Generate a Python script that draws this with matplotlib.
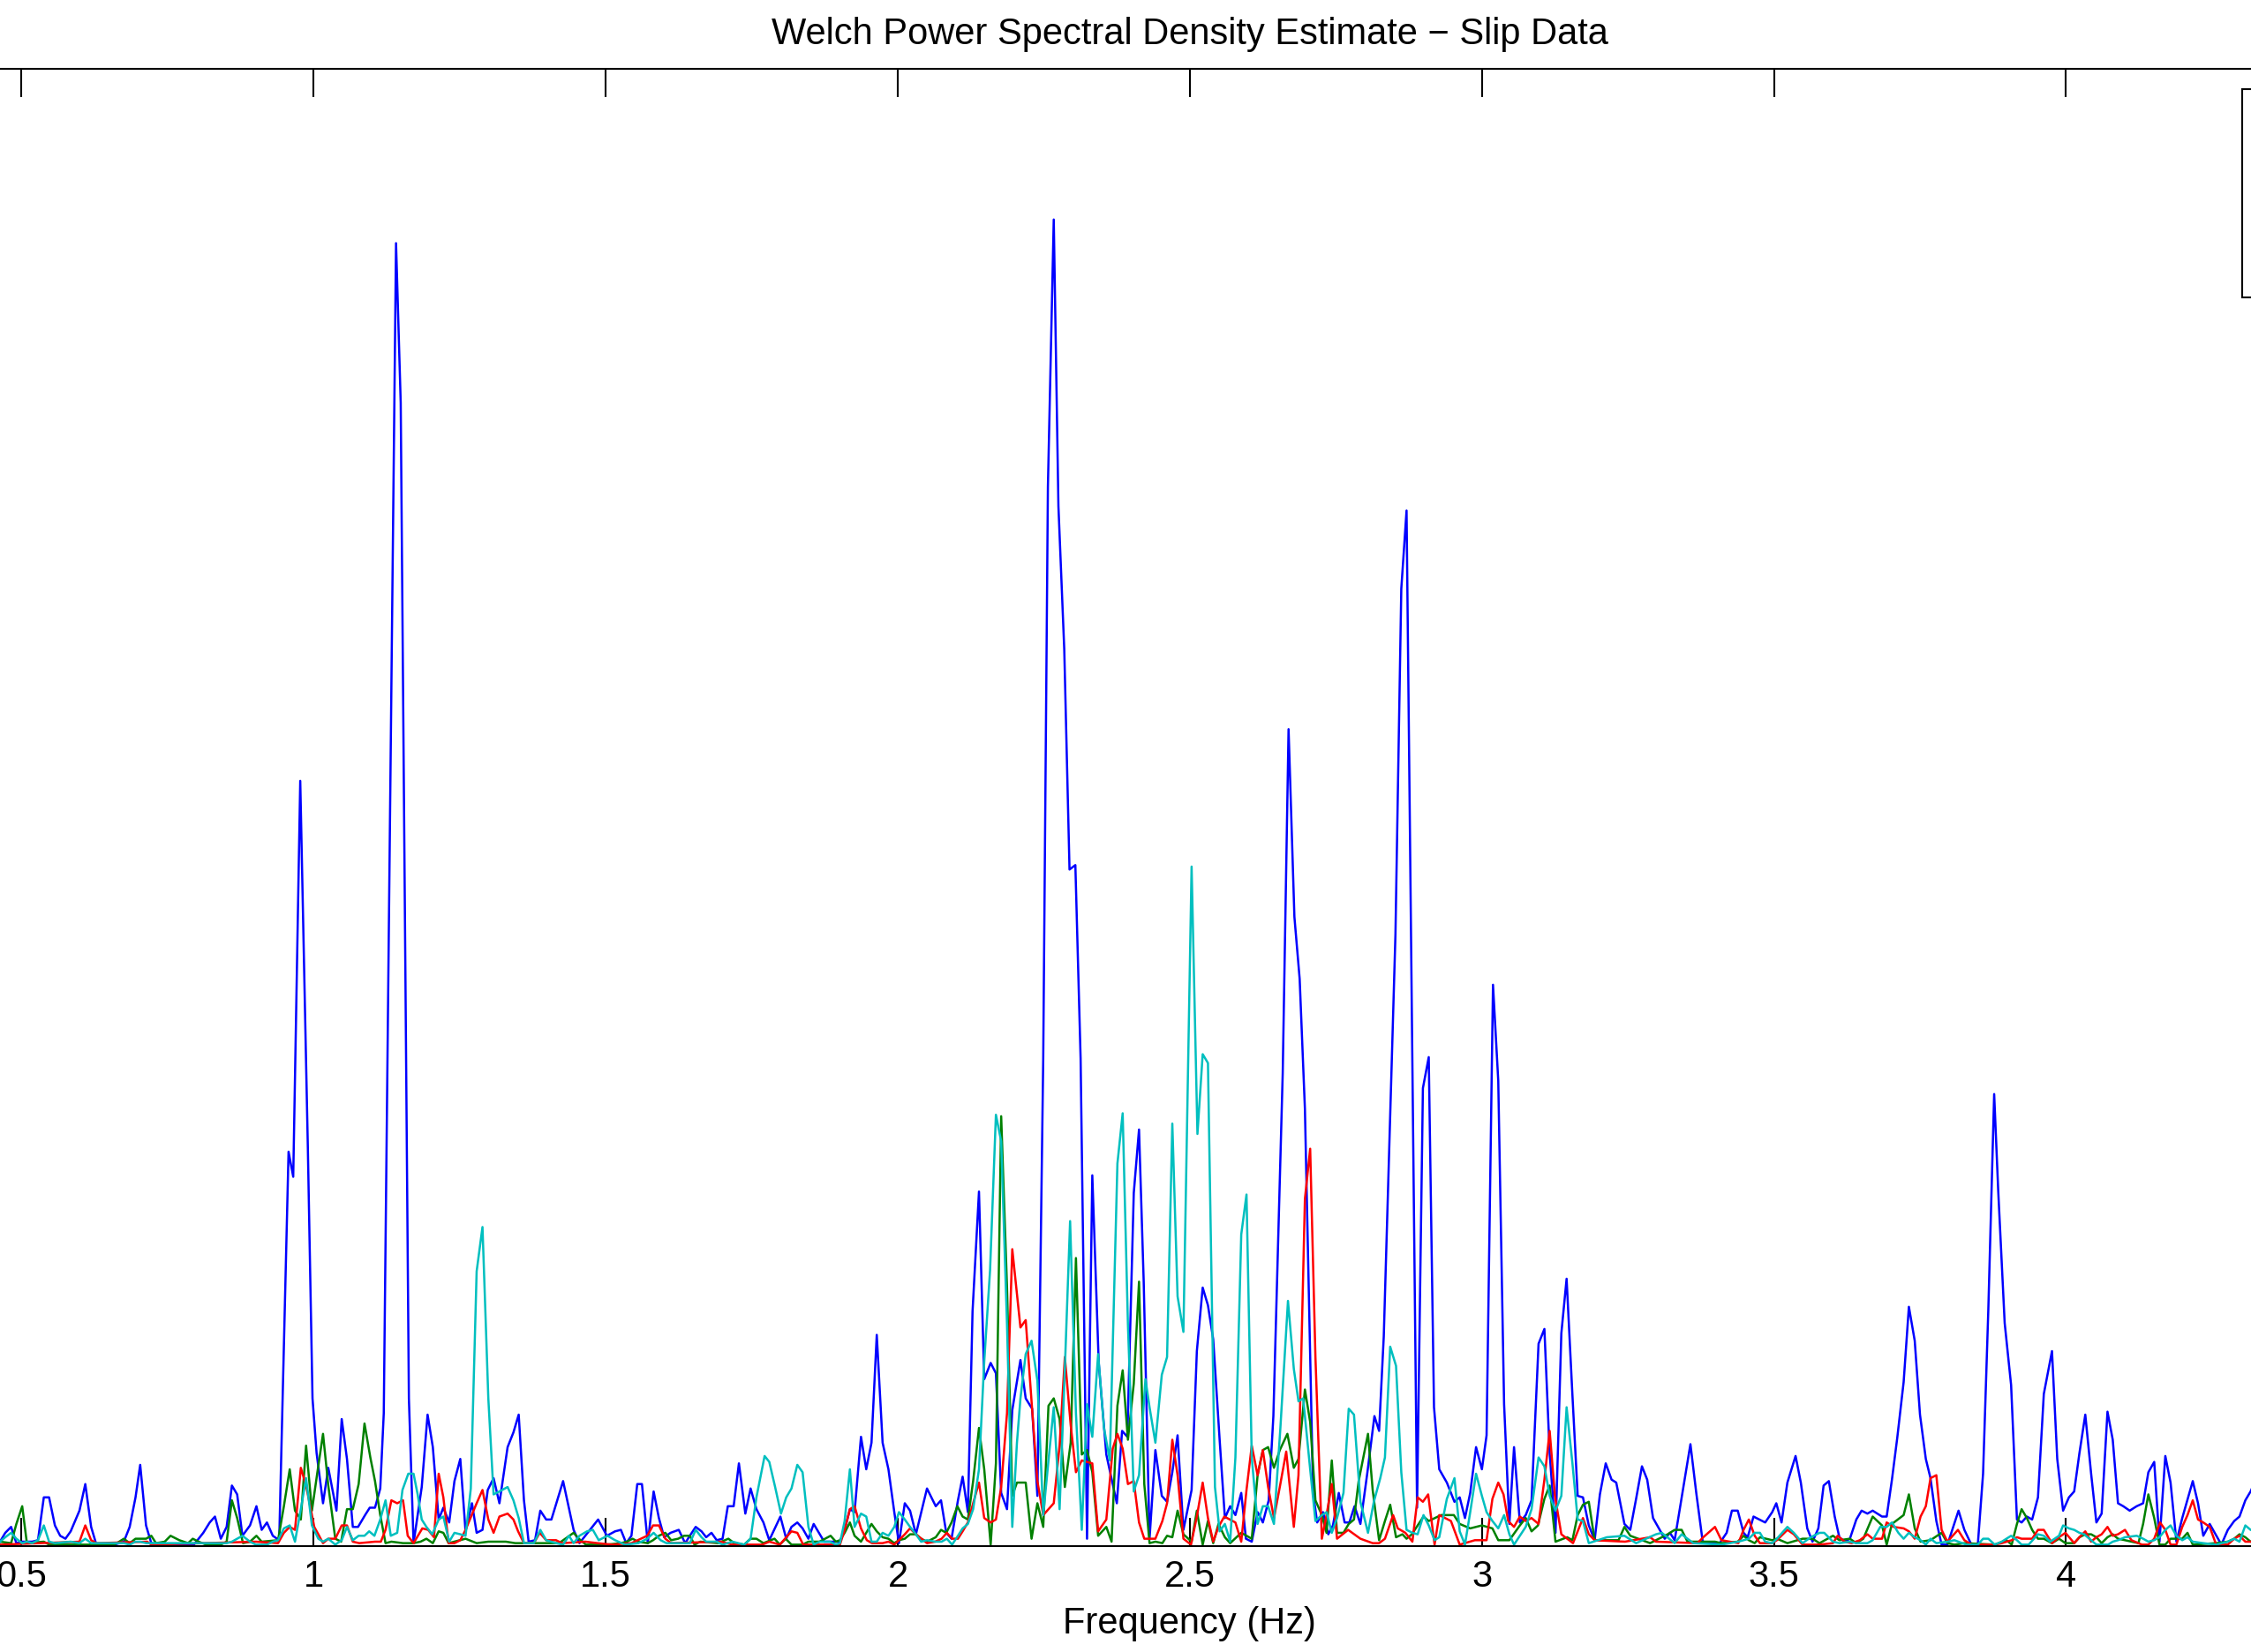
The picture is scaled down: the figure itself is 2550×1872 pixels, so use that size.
import numpy as np
import matplotlib
matplotlib.use('Agg')
import matplotlib.pyplot as plt
from matplotlib.patches import Rectangle

plt.rcParams['font.family'] = ['Liberation Sans', 'DejaVu Sans']

# PSD estimates, (frequency Hz, relative power)
blue = [
    (0.463, 0.003), (0.472, 0.009), (0.482, 0.013), (0.491, 0.002), (0.501, 0.003), (0.518, 0.003),
    (0.528, 0.004), (0.538, 0.033), (0.547, 0.033), (0.557, 0.014), (0.566, 0.007), (0.575, 0.005),
    (0.584, 0.010), (0.599, 0.024), (0.609, 0.042), (0.619, 0.013), (0.628, 0.001), (0.659, 0.001),
    (0.675, 0.003), (0.685, 0.013), (0.695, 0.033), (0.703, 0.055), (0.713, 0.014), (0.722, 0.002),
    (0.745, 0.001), (0.795, 0.001), (0.811, 0.009), (0.822, 0.016), (0.831, 0.020), (0.841, 0.005),
    (0.851, 0.013), (0.860, 0.041), (0.869, 0.035), (0.878, 0.007), (0.891, 0.014), (0.902, 0.027),
    (0.911, 0.011), (0.920, 0.016), (0.930, 0.007), (0.941, 0.004), (0.957, 0.267), (0.965, 0.250),
    (0.977, 0.518), (0.990, 0.270), (0.998, 0.100), (1.005, 0.063), (1.016, 0.029), (1.025, 0.053),
    (1.039, 0.024), (1.048, 0.086), (1.057, 0.059), (1.067, 0.013), (1.076, 0.013), (1.088, 0.021),
    (1.096, 0.026), (1.105, 0.026), (1.114, 0.039), (1.120, 0.090), (1.141, 0.882), (1.149, 0.774),
    (1.163, 0.100), (1.171, 0.002), (1.185, 0.040), (1.195, 0.089), (1.204, 0.067), (1.214, 0.018),
    (1.222, 0.026), (1.232, 0.016), (1.241, 0.044), (1.251, 0.059), (1.260, 0.010), (1.271, 0.029),
    (1.279, 0.009), (1.289, 0.011), (1.298, 0.038), (1.308, 0.046), (1.318, 0.029), (1.332, 0.067),
    (1.342, 0.077), (1.351, 0.089), (1.360, 0.031), (1.368, 0.003), (1.379, 0.004), (1.388, 0.024),
    (1.398, 0.018), (1.407, 0.018), (1.427, 0.044), (1.445, 0.011), (1.455, 0.002), (1.477, 0.013),
    (1.487, 0.018), (1.502, 0.007), (1.516, 0.010), (1.526, 0.011), (1.535, 0.002), (1.544, 0.007),
    (1.554, 0.042), (1.562, 0.042), (1.572, 0.002), (1.582, 0.037), (1.591, 0.019), (1.600, 0.006),
    (1.611, 0.009), (1.625, 0.011), (1.636, 0.002), (1.644, 0.007), (1.654, 0.013), (1.664, 0.010),
    (1.672, 0.006), (1.681, 0.009), (1.690, 0.004), (1.700, 0.005), (1.709, 0.027), (1.719, 0.027),
    (1.728, 0.056), (1.739, 0.022), (1.748, 0.039), (1.758, 0.025), (1.770, 0.016), (1.780, 0.004),
    (1.799, 0.020), (1.809, 0.005), (1.818, 0.013), (1.828, 0.016), (1.837, 0.012), (1.847, 0.005),
    (1.856, 0.015), (1.874, 0.003), (1.901, 0.003), (1.909, 0.011), (1.918, 0.025), (1.926, 0.023),
    (1.937, 0.074), (1.946, 0.052), (1.955, 0.070), (1.964, 0.143), (1.974, 0.070), (1.984, 0.052),
    (1.994, 0.023), (2.002, 0.002), (2.012, 0.029), (2.021, 0.024), (2.031, 0.008), (2.050, 0.039),
    (2.065, 0.027), (2.074, 0.031), (2.083, 0.009), (2.092, 0.005), (2.103, 0.031), (2.111, 0.047),
    (2.120, 0.023), (2.128, 0.159), (2.139, 0.240), (2.148, 0.113), (2.159, 0.124), (2.168, 0.117),
    (2.177, 0.036), (2.187, 0.025), (2.196, 0.092), (2.210, 0.126), (2.219, 0.100), (2.230, 0.093),
    (2.239, 0.034), (2.249, 0.330), (2.257, 0.717), (2.267, 0.898), (2.275, 0.704), (2.285, 0.607),
    (2.294, 0.458), (2.304, 0.461), (2.313, 0.330), (2.324, 0.005), (2.333, 0.251), (2.344, 0.124),
    (2.357, 0.062), (2.375, 0.029), (2.384, 0.078), (2.393, 0.074), (2.404, 0.239), (2.413, 0.282),
    (2.421, 0.179), (2.431, 0.005), (2.441, 0.065), (2.452, 0.034), (2.461, 0.030), (2.470, 0.050),
    (2.479, 0.075), (2.489, 0.011), (2.503, 0.038), (2.512, 0.132), (2.522, 0.175), (2.531, 0.163),
    (2.540, 0.140), (2.551, 0.072), (2.560, 0.019), (2.569, 0.027), (2.578, 0.021), (2.588, 0.036),
    (2.596, 0.005), (2.606, 0.003), (2.616, 0.023), (2.625, 0.016), (2.635, 0.031), (2.643, 0.088),
    (2.659, 0.320), (2.669, 0.553), (2.679, 0.426), (2.688, 0.384), (2.697, 0.296), (2.711, 0.036),
    (2.718, 0.016), (2.728, 0.023), (2.737, 0.008), (2.745, 0.014), (2.755, 0.036), (2.765, 0.016),
    (2.773, 0.016), (2.782, 0.027), (2.792, 0.015), (2.804, 0.050), (2.816, 0.088), (2.824, 0.078),
    (2.832, 0.142), (2.852, 0.414), (2.862, 0.648), (2.871, 0.701), (2.889, 0.026), (2.899, 0.310),
    (2.909, 0.331), (2.918, 0.094), (2.927, 0.052), (2.940, 0.043), (2.953, 0.030), (2.962, 0.033),
    (2.971, 0.019), (2.980, 0.036), (2.990, 0.067), (3.000, 0.052), (3.008, 0.075), (3.019, 0.380),
    (3.028, 0.315), (3.038, 0.096), (3.047, 0.015), (3.055, 0.067), (3.065, 0.016), (3.075, 0.021),
    (3.085, 0.031), (3.097, 0.137), (3.107, 0.147), (3.116, 0.063), (3.126, 0.009), (3.136, 0.144),
    (3.145, 0.181), (3.155, 0.102), (3.164, 0.034), (3.173, 0.033), (3.183, 0.014), (3.193, 0.004),
    (3.202, 0.035), (3.212, 0.056), (3.222, 0.045), (3.230, 0.043), (3.244, 0.015), (3.254, 0.011),
    (3.264, 0.032), (3.274, 0.054), (3.283, 0.045), (3.293, 0.019), (3.303, 0.012), (3.313, 0.005),
    (3.322, 0.009), (3.330, 0.004), (3.342, 0.033), (3.357, 0.069), (3.367, 0.036), (3.378, 0.003),
    (3.407, 0.002), (3.419, 0.009), (3.428, 0.024), (3.438, 0.024), (3.448, 0.009), (3.455, 0.006),
    (3.465, 0.020), (3.485, 0.016), (3.497, 0.023), (3.504, 0.029), (3.513, 0.016), (3.523, 0.043),
    (3.537, 0.061), (3.546, 0.043), (3.557, 0.012), (3.566, 0.003), (3.576, 0.012), (3.585, 0.041),
    (3.594, 0.044), (3.604, 0.020), (3.612, 0.006), (3.621, 0.003), (3.630, 0.005), (3.641, 0.018),
    (3.650, 0.024), (3.660, 0.022), (3.669, 0.024), (3.685, 0.020), (3.693, 0.020), (3.702, 0.045),
    (3.711, 0.073), (3.722, 0.111), (3.731, 0.162), (3.741, 0.139), (3.750, 0.089), (3.760, 0.059),
    (3.768, 0.046), (3.778, 0.017), (3.787, 0.001), (3.797, 0.001), (3.816, 0.024), (3.826, 0.011),
    (3.838, 0.001), (3.849, 0.001), (3.858, 0.049), (3.867, 0.160), (3.877, 0.306), (3.884, 0.240),
    (3.895, 0.151), (3.906, 0.109), (3.916, 0.018), (3.924, 0.016), (3.933, 0.020), (3.942, 0.018),
    (3.952, 0.033), (3.962, 0.103), (3.976, 0.132), (3.985, 0.059), (3.995, 0.024), (4.005, 0.033),
    (4.014, 0.037), (4.023, 0.063), (4.033, 0.089), (4.043, 0.049), (4.052, 0.016), (4.061, 0.022),
    (4.071, 0.091), (4.080, 0.072), (4.089, 0.029), (4.098, 0.027), (4.109, 0.024), (4.121, 0.027),
    (4.132, 0.029), (4.141, 0.050), (4.151, 0.057), (4.160, 0.003), (4.170, 0.061), (4.179, 0.043),
    (4.189, 0.003), (4.199, 0.019), (4.217, 0.044), (4.226, 0.029), (4.235, 0.007), (4.246, 0.015),
    (4.266, 0.001), (4.277, 0.011), (4.288, 0.017), (4.297, 0.020), (4.307, 0.031), (4.316, 0.037),
    (4.325, 0.045),
]

green = [
    (0.463, 0.003), (0.482, 0.002), (0.491, 0.015), (0.501, 0.027), (0.509, 0.002), (0.538, 0.003),
    (0.547, 0.001), (0.659, 0.001), (0.675, 0.005), (0.685, 0.002), (0.695, 0.005), (0.713, 0.005),
    (0.722, 0.007), (0.730, 0.002), (0.745, 0.003), (0.755, 0.007), (0.770, 0.004), (0.785, 0.002),
    (0.793, 0.005), (0.803, 0.003), (0.816, 0.001), (0.841, 0.001), (0.851, 0.003), (0.860, 0.031),
    (0.869, 0.019), (0.879, 0.002), (0.891, 0.003), (0.902, 0.007), (0.911, 0.003), (0.939, 0.004),
    (0.949, 0.027), (0.959, 0.052), (0.968, 0.024), (0.978, 0.018), (0.987, 0.068), (0.997, 0.024),
    (1.006, 0.049), (1.016, 0.076), (1.025, 0.041), (1.037, 0.005), (1.047, 0.003), (1.057, 0.025),
    (1.067, 0.025), (1.077, 0.042), (1.087, 0.083), (1.097, 0.060), (1.105, 0.044), (1.114, 0.021),
    (1.123, 0.002), (1.133, 0.003), (1.153, 0.002), (1.171, 0.002), (1.183, 0.003), (1.193, 0.005),
    (1.204, 0.002), (1.214, 0.010), (1.222, 0.009), (1.231, 0.002), (1.260, 0.005), (1.279, 0.002),
    (1.299, 0.003), (1.329, 0.003), (1.345, 0.002), (1.420, 0.002), (1.445, 0.009), (1.454, 0.005),
    (1.466, 0.001), (1.502, 0.001), (1.526, 0.002), (1.536, 0.003), (1.546, 0.005), (1.555, 0.003),
    (1.572, 0.002), (1.581, 0.004), (1.591, 0.007), (1.602, 0.009), (1.612, 0.004), (1.624, 0.005),
    (1.634, 0.007), (1.644, 0.007), (1.652, 0.001), (1.662, 0.003), (1.692, 0.002), (1.710, 0.005),
    (1.720, 0.002), (1.737, 0.001), (1.748, 0.005), (1.758, 0.005), (1.770, 0.002), (1.789, 0.005),
    (1.798, 0.001), (1.808, 0.005), (1.818, 0.001), (1.837, 0.001), (1.847, 0.003), (1.866, 0.003),
    (1.885, 0.007), (1.894, 0.003), (1.901, 0.004), (1.909, 0.009), (1.918, 0.016), (1.926, 0.007),
    (1.937, 0.003), (1.946, 0.009), (1.955, 0.015), (1.964, 0.010), (1.974, 0.006), (1.984, 0.005),
    (1.994, 0.002), (2.002, 0.004), (2.012, 0.005), (2.021, 0.008), (2.031, 0.008), (2.040, 0.005),
    (2.050, 0.003), (2.065, 0.006), (2.074, 0.011), (2.083, 0.009), (2.092, 0.016), (2.102, 0.027),
    (2.111, 0.020), (2.120, 0.018), (2.129, 0.044), (2.139, 0.080), (2.148, 0.052), (2.159, 0.001),
    (2.168, 0.056), (2.177, 0.291), (2.187, 0.175), (2.196, 0.034), (2.204, 0.043), (2.219, 0.043),
    (2.229, 0.005), (2.239, 0.029), (2.249, 0.013), (2.258, 0.095), (2.267, 0.100), (2.277, 0.086),
    (2.286, 0.040), (2.296, 0.070), (2.305, 0.195), (2.315, 0.062), (2.324, 0.065), (2.333, 0.050),
    (2.343, 0.007), (2.357, 0.013), (2.366, 0.003), (2.376, 0.095), (2.385, 0.119), (2.394, 0.072),
    (2.404, 0.110), (2.413, 0.179), (2.422, 0.042), (2.431, 0.002), (2.441, 0.003), (2.453, 0.002),
    (2.461, 0.007), (2.470, 0.006), (2.479, 0.024), (2.489, 0.008), (2.503, 0.003), (2.512, 0.024),
    (2.522, 0.001), (2.531, 0.017), (2.540, 0.002), (2.549, 0.015), (2.560, 0.006), (2.569, 0.002),
    (2.588, 0.009), (2.597, 0.007), (2.606, 0.005), (2.616, 0.048), (2.625, 0.065), (2.634, 0.067),
    (2.644, 0.053), (2.654, 0.065), (2.667, 0.076), (2.678, 0.053), (2.686, 0.059), (2.697, 0.106),
    (2.706, 0.084), (2.715, 0.031), (2.726, 0.021), (2.734, 0.009), (2.743, 0.058), (2.752, 0.009),
    (2.763, 0.009), (2.772, 0.015), (2.781, 0.018), (2.789, 0.044), (2.797, 0.060), (2.805, 0.076),
    (2.813, 0.038), (2.824, 0.004), (2.834, 0.017), (2.843, 0.028), (2.853, 0.006), (2.864, 0.008),
    (2.871, 0.005), (2.880, 0.008), (2.900, 0.020), (2.909, 0.017), (2.930, 0.021), (2.952, 0.021),
    (2.962, 0.015), (2.980, 0.012), (3.000, 0.014), (3.018, 0.012), (3.028, 0.004), (3.047, 0.004),
    (3.065, 0.014), (3.075, 0.019), (3.085, 0.010), (3.096, 0.014), (3.107, 0.032), (3.116, 0.041),
    (3.126, 0.003), (3.146, 0.006), (3.155, 0.004), (3.164, 0.021), (3.173, 0.028), (3.183, 0.030),
    (3.193, 0.004), (3.234, 0.004), (3.244, 0.013), (3.254, 0.007), (3.288, 0.002), (3.318, 0.008),
    (3.330, 0.011), (3.342, 0.011), (3.352, 0.003), (3.399, 0.003), (3.410, 0.002), (3.438, 0.003),
    (3.448, 0.007), (3.457, 0.004), (3.467, 0.002), (3.476, 0.006), (3.497, 0.004), (3.505, 0.005),
    (3.523, 0.002), (3.549, 0.005), (3.566, 0.005), (3.578, 0.002), (3.601, 0.007), (3.612, 0.004),
    (3.630, 0.005), (3.641, 0.002), (3.653, 0.005), (3.669, 0.020), (3.685, 0.014), (3.693, 0.001),
    (3.702, 0.015), (3.722, 0.021), (3.731, 0.035), (3.741, 0.012), (3.751, 0.003), (3.768, 0.004),
    (3.787, 0.009), (3.797, 0.002), (3.809, 0.001), (3.826, 0.002), (3.878, 0.001), (3.898, 0.004),
    (3.907, 0.001), (3.916, 0.015), (3.924, 0.025), (3.933, 0.019), (3.942, 0.011), (3.952, 0.005),
    (3.962, 0.005), (3.976, 0.002), (3.988, 0.005), (3.999, 0.002), (4.014, 0.002), (4.023, 0.006),
    (4.033, 0.008), (4.043, 0.008), (4.052, 0.006), (4.061, 0.002), (4.071, 0.006), (4.080, 0.008),
    (4.089, 0.005), (4.101, 0.004), (4.124, 0.002), (4.132, 0.015), (4.141, 0.035), (4.151, 0.019),
    (4.160, 0.001), (4.170, 0.001), (4.179, 0.005), (4.199, 0.005), (4.208, 0.009), (4.217, 0.001),
    (4.257, 0.002), (4.277, 0.003), (4.288, 0.005), (4.297, 0.008), (4.307, 0.006), (4.316, 0.003),
    (4.325, 0.003),
]

red = [
    (0.463, 0.001), (0.599, 0.003), (0.609, 0.014), (0.619, 0.004), (0.628, 0.002), (0.715, 0.003),
    (0.722, 0.001), (0.901, 0.003), (0.939, 0.002), (0.949, 0.009), (0.959, 0.013), (0.968, 0.011),
    (0.978, 0.053), (0.987, 0.041), (1.001, 0.013), (1.008, 0.008), (1.016, 0.002), (1.025, 0.005),
    (1.037, 0.005), (1.048, 0.014), (1.057, 0.014), (1.067, 0.003), (1.078, 0.002), (1.105, 0.003),
    (1.115, 0.003), (1.123, 0.011), (1.133, 0.031), (1.143, 0.029), (1.153, 0.031), (1.161, 0.007),
    (1.171, 0.002), (1.186, 0.012), (1.196, 0.011), (1.206, 0.006), (1.214, 0.049), (1.222, 0.033),
    (1.231, 0.002), (1.241, 0.002), (1.251, 0.004), (1.260, 0.011), (1.279, 0.029), (1.289, 0.038),
    (1.299, 0.018), (1.308, 0.009), (1.318, 0.020), (1.332, 0.022), (1.342, 0.018), (1.350, 0.010),
    (1.360, 0.002), (1.377, 0.002), (1.387, 0.009), (1.398, 0.004), (1.415, 0.004), (1.425, 0.002),
    (1.465, 0.003), (1.486, 0.002), (1.511, 0.001), (1.544, 0.002), (1.571, 0.007), (1.581, 0.014),
    (1.591, 0.014), (1.602, 0.005), (1.612, 0.002), (1.697, 0.003), (1.717, 0.001), (1.768, 0.001),
    (1.780, 0.003), (1.798, 0.001), (1.818, 0.010), (1.828, 0.009), (1.838, 0.001), (1.901, 0.001),
    (1.909, 0.011), (1.918, 0.025), (1.926, 0.027), (1.937, 0.012), (1.947, 0.004), (1.956, 0.002),
    (1.974, 0.002), (1.984, 0.003), (1.994, 0.001), (2.002, 0.004), (2.012, 0.008), (2.021, 0.012),
    (2.031, 0.008), (2.050, 0.002), (2.064, 0.003), (2.075, 0.005), (2.084, 0.009), (2.093, 0.005),
    (2.103, 0.005), (2.111, 0.010), (2.120, 0.016), (2.129, 0.029), (2.139, 0.043), (2.148, 0.019),
    (2.159, 0.016), (2.168, 0.018), (2.177, 0.040), (2.187, 0.090), (2.196, 0.201), (2.210, 0.148),
    (2.219, 0.153), (2.229, 0.098), (2.239, 0.044), (2.249, 0.021), (2.267, 0.029), (2.277, 0.068),
    (2.286, 0.128), (2.296, 0.082), (2.305, 0.050), (2.315, 0.058), (2.333, 0.056), (2.343, 0.010),
    (2.357, 0.018), (2.368, 0.066), (2.376, 0.076), (2.385, 0.066), (2.394, 0.042), (2.404, 0.044),
    (2.413, 0.016), (2.422, 0.005), (2.441, 0.005), (2.453, 0.017), (2.461, 0.029), (2.470, 0.072),
    (2.479, 0.048), (2.489, 0.005), (2.502, 0.001), (2.512, 0.020), (2.522, 0.043), (2.531, 0.019),
    (2.540, 0.003), (2.549, 0.013), (2.559, 0.020), (2.578, 0.016), (2.588, 0.003), (2.597, 0.038),
    (2.606, 0.068), (2.616, 0.048), (2.625, 0.065), (2.634, 0.040), (2.644, 0.019), (2.654, 0.040),
    (2.665, 0.064), (2.678, 0.013), (2.686, 0.048), (2.697, 0.235), (2.706, 0.269), (2.715, 0.128),
    (2.726, 0.005), (2.734, 0.021), (2.743, 0.042), (2.752, 0.005), (2.771, 0.011), (2.792, 0.005),
    (2.813, 0.002), (2.824, 0.002), (2.834, 0.005), (2.848, 0.021), (2.856, 0.012), (2.869, 0.009),
    (2.881, 0.003), (2.890, 0.033), (2.899, 0.030), (2.908, 0.035), (2.919, 0.001), (2.927, 0.021),
    (2.947, 0.017), (2.962, 0.001), (2.988, 0.004), (3.008, 0.004), (3.018, 0.032), (3.028, 0.043),
    (3.037, 0.035), (3.045, 0.017), (3.055, 0.013), (3.065, 0.020), (3.075, 0.017), (3.085, 0.019),
    (3.097, 0.015), (3.107, 0.045), (3.116, 0.078), (3.125, 0.034), (3.136, 0.008), (3.156, 0.002),
    (3.164, 0.010), (3.173, 0.019), (3.183, 0.008), (3.193, 0.004), (3.245, 0.003), (3.288, 0.006),
    (3.298, 0.003), (3.369, 0.002), (3.379, 0.006), (3.399, 0.013), (3.410, 0.004), (3.439, 0.002),
    (3.448, 0.011), (3.457, 0.018), (3.467, 0.007), (3.476, 0.002), (3.497, 0.002), (3.505, 0.004),
    (3.523, 0.011), (3.534, 0.008), (3.549, 0.001), (3.578, 0.001), (3.601, 0.002), (3.609, 0.007),
    (3.621, 0.003), (3.633, 0.002), (3.647, 0.004), (3.660, 0.008), (3.669, 0.005), (3.685, 0.005),
    (3.693, 0.016), (3.705, 0.013), (3.722, 0.012), (3.731, 0.010), (3.741, 0.005), (3.751, 0.020),
    (3.760, 0.027), (3.768, 0.046), (3.778, 0.048), (3.787, 0.011), (3.797, 0.003), (3.815, 0.011),
    (3.826, 0.004), (3.838, 0.001), (3.878, 0.001), (3.890, 0.002), (3.907, 0.004), (3.916, 0.006),
    (3.924, 0.005), (3.942, 0.005), (3.952, 0.011), (3.962, 0.011), (3.976, 0.002), (3.988, 0.006),
    (3.999, 0.009), (4.014, 0.002), (4.023, 0.006), (4.033, 0.010), (4.043, 0.003), (4.052, 0.006),
    (4.061, 0.008), (4.071, 0.013), (4.080, 0.007), (4.089, 0.008), (4.101, 0.011), (4.112, 0.004),
    (4.130, 0.001), (4.141, 0.001), (4.151, 0.005), (4.161, 0.016), (4.170, 0.011), (4.179, 0.001),
    (4.189, 0.001), (4.199, 0.013), (4.208, 0.021), (4.217, 0.031), (4.226, 0.018), (4.235, 0.016),
    (4.246, 0.013), (4.257, 0.001), (4.277, 0.001), (4.288, 0.005), (4.297, 0.007), (4.307, 0.003),
    (4.325, 0.003),
]

cyan = [
    (0.463, 0.003), (0.472, 0.006), (0.482, 0.009), (0.491, 0.005), (0.501, 0.002), (0.509, 0.003),
    (0.518, 0.002), (0.528, 0.004), (0.538, 0.014), (0.547, 0.003), (0.557, 0.002), (0.584, 0.003),
    (0.599, 0.002), (0.609, 0.005), (0.619, 0.002), (0.675, 0.002), (0.685, 0.001), (0.695, 0.003),
    (0.703, 0.003), (0.713, 0.002), (0.851, 0.002), (0.860, 0.003), (0.869, 0.005), (0.878, 0.007),
    (0.891, 0.003), (0.901, 0.001), (0.920, 0.001), (0.930, 0.003), (0.939, 0.004), (0.949, 0.012),
    (0.959, 0.014), (0.968, 0.003), (0.978, 0.025), (0.987, 0.046), (0.997, 0.014), (1.008, 0.005),
    (1.016, 0.003), (1.025, 0.005), (1.037, 0.001), (1.048, 0.004), (1.057, 0.013), (1.067, 0.004),
    (1.077, 0.007), (1.087, 0.007), (1.095, 0.010), (1.104, 0.007), (1.114, 0.018), (1.123, 0.031),
    (1.132, 0.007), (1.143, 0.009), (1.152, 0.038), (1.162, 0.049), (1.171, 0.049), (1.178, 0.035),
    (1.185, 0.018), (1.193, 0.013), (1.203, 0.008), (1.214, 0.018), (1.222, 0.020), (1.232, 0.003),
    (1.241, 0.009), (1.251, 0.008), (1.260, 0.007), (1.269, 0.039), (1.279, 0.186), (1.289, 0.216),
    (1.299, 0.100), (1.308, 0.035), (1.318, 0.037), (1.332, 0.040), (1.342, 0.031), (1.351, 0.019),
    (1.360, 0.002), (1.377, 0.002), (1.388, 0.011), (1.398, 0.004), (1.415, 0.002), (1.427, 0.001),
    (1.437, 0.007), (1.445, 0.002), (1.455, 0.007), (1.468, 0.010), (1.478, 0.011), (1.488, 0.004),
    (1.503, 0.007), (1.516, 0.004), (1.533, 0.001), (1.556, 0.002), (1.571, 0.005), (1.582, 0.009),
    (1.594, 0.004), (1.604, 0.002), (1.644, 0.002), (1.654, 0.011), (1.664, 0.006), (1.672, 0.003),
    (1.690, 0.003), (1.700, 0.001), (1.717, 0.003), (1.737, 0.001), (1.748, 0.005), (1.758, 0.033),
    (1.772, 0.061), (1.780, 0.057), (1.790, 0.040), (1.800, 0.022), (1.809, 0.033), (1.818, 0.039),
    (1.828, 0.055), (1.837, 0.050), (1.847, 0.013), (1.856, 0.001), (1.866, 0.003), (1.884, 0.003),
    (1.894, 0.001), (1.901, 0.002), (1.909, 0.017), (1.918, 0.052), (1.926, 0.013), (1.937, 0.022),
    (1.946, 0.020), (1.955, 0.003), (1.964, 0.003), (1.974, 0.009), (1.984, 0.007), (1.994, 0.013),
    (2.002, 0.023), (2.012, 0.018), (2.021, 0.013), (2.031, 0.008), (2.040, 0.003), (2.050, 0.004),
    (2.064, 0.003), (2.075, 0.003), (2.084, 0.005), (2.093, 0.001), (2.103, 0.007), (2.111, 0.012),
    (2.120, 0.015), (2.129, 0.025), (2.139, 0.052), (2.148, 0.125), (2.158, 0.187), (2.168, 0.292),
    (2.177, 0.274), (2.187, 0.150), (2.196, 0.013), (2.204, 0.070), (2.210, 0.100), (2.219, 0.130),
    (2.229, 0.139), (2.239, 0.112), (2.249, 0.021), (2.258, 0.058), (2.267, 0.094), (2.277, 0.025),
    (2.286, 0.120), (2.295, 0.220), (2.305, 0.090), (2.315, 0.011), (2.324, 0.096), (2.333, 0.074),
    (2.343, 0.130), (2.353, 0.080), (2.363, 0.058), (2.376, 0.259), (2.385, 0.293), (2.394, 0.150),
    (2.404, 0.037), (2.413, 0.048), (2.424, 0.113), (2.431, 0.094), (2.441, 0.070), (2.452, 0.116),
    (2.461, 0.128), (2.470, 0.286), (2.479, 0.169), (2.489, 0.145), (2.503, 0.460), (2.513, 0.279),
    (2.522, 0.333), (2.531, 0.327), (2.543, 0.040), (2.551, 0.010), (2.560, 0.015), (2.569, 0.003),
    (2.578, 0.060), (2.588, 0.211), (2.597, 0.238), (2.606, 0.060), (2.616, 0.015), (2.625, 0.027),
    (2.634, 0.027), (2.644, 0.015), (2.655, 0.080), (2.668, 0.166), (2.678, 0.120), (2.686, 0.098),
    (2.694, 0.100), (2.706, 0.052), (2.715, 0.017), (2.726, 0.021), (2.734, 0.023), (2.743, 0.009),
    (2.752, 0.019), (2.763, 0.036), (2.772, 0.093), (2.781, 0.089), (2.792, 0.030), (2.805, 0.009),
    (2.815, 0.030), (2.826, 0.046), (2.834, 0.060), (2.843, 0.135), (2.853, 0.122), (2.862, 0.050),
    (2.871, 0.011), (2.881, 0.009), (2.890, 0.008), (2.900, 0.021), (2.909, 0.014), (2.919, 0.004),
    (2.927, 0.006), (2.940, 0.032), (2.953, 0.046), (2.962, 0.010), (2.971, 0.001), (2.980, 0.023),
    (2.990, 0.049), (3.000, 0.034), (3.008, 0.023), (3.018, 0.017), (3.028, 0.012), (3.038, 0.021),
    (3.047, 0.008), (3.055, 0.001), (3.075, 0.013), (3.085, 0.025), (3.097, 0.060), (3.107, 0.054),
    (3.116, 0.034), (3.126, 0.024), (3.136, 0.034), (3.145, 0.094), (3.155, 0.056), (3.164, 0.018),
    (3.173, 0.017), (3.183, 0.002), (3.214, 0.006), (3.244, 0.007), (3.264, 0.002), (3.298, 0.008),
    (3.308, 0.009), (3.330, 0.002), (3.342, 0.008), (3.362, 0.002), (3.410, 0.001), (3.439, 0.003),
    (3.457, 0.005), (3.467, 0.009), (3.476, 0.009), (3.485, 0.003), (3.497, 0.002), (3.505, 0.005),
    (3.523, 0.013), (3.534, 0.009), (3.549, 0.002), (3.563, 0.006), (3.578, 0.009), (3.586, 0.009),
    (3.601, 0.003), (3.612, 0.002), (3.630, 0.003), (3.641, 0.002), (3.660, 0.002), (3.669, 0.004),
    (3.682, 0.013), (3.693, 0.013), (3.702, 0.016), (3.713, 0.009), (3.722, 0.005), (3.731, 0.009),
    (3.741, 0.006), (3.751, 0.004), (3.760, 0.001), (3.768, 0.005), (3.778, 0.002), (3.797, 0.003),
    (3.809, 0.004), (3.829, 0.001), (3.849, 0.001), (3.858, 0.005), (3.867, 0.005), (3.878, 0.001),
    (3.890, 0.003), (3.906, 0.007), (3.916, 0.004), (3.924, 0.001), (3.936, 0.001), (3.952, 0.008),
    (3.962, 0.007), (3.973, 0.003), (3.988, 0.007), (3.995, 0.014), (4.005, 0.012), (4.014, 0.011),
    (4.023, 0.009), (4.031, 0.008), (4.043, 0.004), (4.052, 0.001), (4.072, 0.001), (4.080, 0.003),
    (4.089, 0.004), (4.101, 0.006), (4.121, 0.007), (4.132, 0.005), (4.141, 0.003), (4.151, 0.004),
    (4.160, 0.006), (4.170, 0.011), (4.179, 0.014), (4.189, 0.007), (4.199, 0.004), (4.208, 0.006),
    (4.217, 0.003), (4.235, 0.002), (4.257, 0.001), (4.277, 0.003), (4.288, 0.005), (4.297, 0.003),
    (4.307, 0.014), (4.316, 0.011), (4.325, 0.010),
]

x_ticks = [0, 0.5, 1, 1.5, 2, 2.5, 3, 3.5, 4, 4.5, 5]
x_tick_labels = ['0', '0.5', '1', '1.5', '2', '2.5', '3', '3.5', '4', '4.5', '5']

series = [(blue, '#0000ff'), (green, '#008000'), (red, '#ff0000'), (cyan, '#00bfbf')]

fig = plt.figure(figsize=(8.5, 6.24), dpi=300)
# the exported figure is a crop: the axes run past both side edges
ax = fig.add_axes([-0.12014, 0.0641, 1.29745, 0.89423])

for data, color in series:
    arr = np.array(data)
    ax.plot(arr[:, 0], arr[:, 1], color=color, linewidth=0.6)

ax.set_xlim(0, 5)
ax.set_ylim(0, 1)
ax.set_xticks(x_ticks)
ax.set_xticklabels(x_tick_labels)
ax.tick_params(axis='x', direction='in', top=True, length=7.7, width=0.5, labelsize=10, pad=3.7)
ax.tick_params(axis='y', direction='in', right=True, length=7.7, width=0.5, labelsize=10)
for spine in ax.spines.values():
    spine.set_linewidth(0.5)

ax.set_xlabel('Frequency (Hz)', fontsize=10, labelpad=3)
ax.set_title('Welch Power Spectral Density Estimate \u2212 Slip Data', fontsize=10, pad=6.8)

# legend frame in the upper right corner (its contents fall outside the crop)
ax.add_patch(Rectangle((0.8603, 0.8453), 0.12, 0.141, transform=ax.transAxes,
                       facecolor='white', edgecolor='black', linewidth=0.5,
                       clip_on=False, zorder=5))

fig.savefig('out.png', dpi=300)
